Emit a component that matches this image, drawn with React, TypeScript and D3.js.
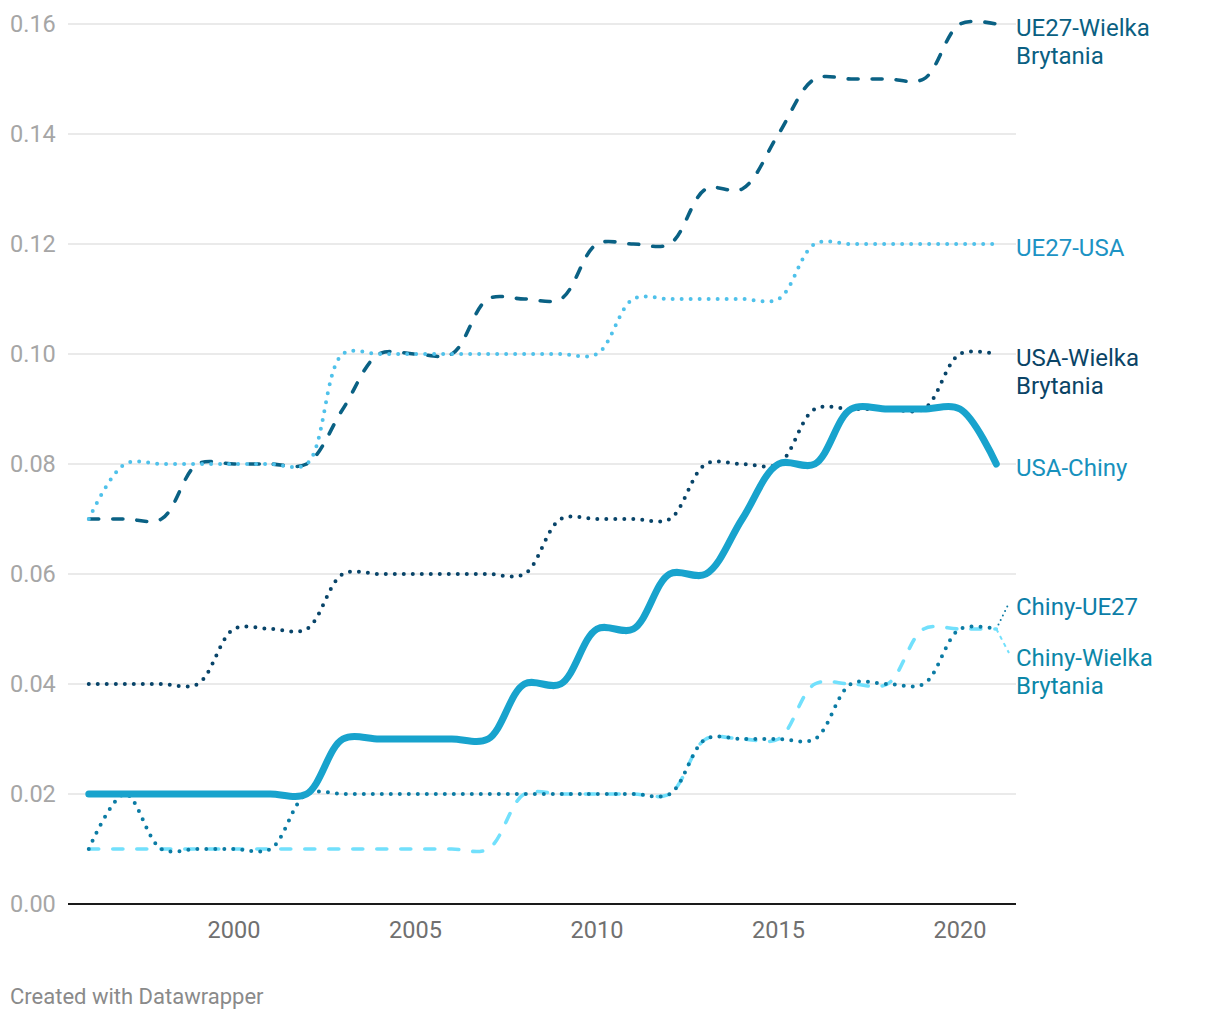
import React from "react";
import * as d3 from "d3";

const years = [1996,1997,1998,1999,2000,2001,2002,2003,2004,2005,2006,2007,2008,2009,2010,2011,2012,2013,2014,2015,2016,2017,2018,2019,2020,2021];

const ue27Wb = [0.07,0.07,0.07,0.08,0.08,0.08,0.08,0.09,0.10,0.10,0.10,0.11,0.11,0.11,0.12,0.12,0.12,0.13,0.13,0.14,0.15,0.15,0.15,0.15,0.16,0.16];
const ue27Usa = [0.07,0.08,0.08,0.08,0.08,0.08,0.08,0.10,0.10,0.10,0.10,0.10,0.10,0.10,0.10,0.11,0.11,0.11,0.11,0.11,0.12,0.12,0.12,0.12,0.12,0.12];
const usaWb = [0.04,0.04,0.04,0.04,0.05,0.05,0.05,0.06,0.06,0.06,0.06,0.06,0.06,0.07,0.07,0.07,0.07,0.08,0.08,0.08,0.09,0.09,0.09,0.09,0.10,0.10];
const usaChiny = [0.02,0.02,0.02,0.02,0.02,0.02,0.02,0.03,0.03,0.03,0.03,0.03,0.04,0.04,0.05,0.05,0.06,0.06,0.07,0.08,0.08,0.09,0.09,0.09,0.09,0.08];
const chinyUe27 = [0.01,0.02,0.01,0.01,0.01,0.01,0.02,0.02,0.02,0.02,0.02,0.02,0.02,0.02,0.02,0.02,0.02,0.03,0.03,0.03,0.03,0.04,0.04,0.04,0.05,0.05];
const chinyWb = [0.01,0.01,0.01,0.01,0.01,0.01,0.01,0.01,0.01,0.01,0.01,0.01,0.02,0.02,0.02,0.02,0.02,0.03,0.03,0.03,0.04,0.04,0.04,0.05,0.05,0.05];

const yTicks = [0, 0.02, 0.04, 0.06, 0.08, 0.1, 0.12, 0.14, 0.16];
const xTicks = [2000, 2005, 2010, 2015, 2020];

type S = { name: string[]; values: number[]; color: string; label: string; width: number; dash: string; labelY: number };

const series: S[] = [
  { name: ["UE27-Wielka", "Brytania"], values: ue27Wb, color: "#0a6184", label: "#0a5f82", width: 3.6, dash: "10 14", labelY: 0.16 },
  { name: ["UE27-USA"], values: ue27Usa, color: "#4fc1ea", label: "#1d93c4", width: 4, dash: "0 9", labelY: 0.12 },
  { name: ["USA-Wielka", "Brytania"], values: usaWb, color: "#084469", label: "#0a4466", width: 4, dash: "0 9", labelY: 0.10 },
  { name: ["Chiny-Wielka", "Brytania"], values: chinyWb, color: "#72e0fc", label: "#0c87a8", width: 3.6, dash: "10 14", labelY: -1 },
  { name: ["Chiny-UE27"], values: chinyUe27, color: "#0b7ba4", label: "#0d7ea8", width: 4, dash: "0 9", labelY: -1 },
  { name: ["USA-Chiny"], values: usaChiny, color: "#18a3cd", label: "#1791bd", width: 7, dash: "", labelY: 0.08 },
];

export default function App() {
  const W = 1220, H = 1020;
  const x = d3.scaleLinear().domain([1996, 2021]).range([88.8, 996.3]);
  const y = d3.scaleLinear().domain([0, 0.16]).range([904, 24]);
  const line = d3.line<number>().x((_, i) => x(years[i])).y((d) => y(d)).curve(d3.curveCatmullRom);
  const font = "Roboto, 'Noto Sans', sans-serif";
  const endY = y(0.05);

  return (
    <svg width={W} height={H} style={{ position: "absolute", left: 0, top: 0 }} fontFamily={font}>
      <rect width={W} height={H} fill="#fff" />
      {yTicks.map((t) => (
        <g key={t}>
          {t > 0 && <line x1={68} x2={1016} y1={y(t)} y2={y(t)} stroke="#e3e3e3" strokeWidth={1.5} />}
          <text x={10} y={y(t)} dy="0.35em" fontSize={23.5} fill="#a6a6a6">{t.toFixed(2)}</text>
        </g>
      ))}
      <line x1={68} x2={1016} y1={y(0)} y2={y(0)} stroke="#1a1a1a" strokeWidth={2} />
      {xTicks.map((t) => (
        <text key={t} x={x(t)} y={938} textAnchor="middle" fontSize={23.5} fill="#707070">{t}</text>
      ))}
      <line x1={x(2021)} y1={endY} x2={1009} y2={603} stroke="#0b7ba4" strokeWidth={2} strokeDasharray="0 5" strokeLinecap="round" />
      <line x1={x(2021)} y1={endY} x2={1009} y2={653} stroke="#72e0fc" strokeWidth={2} strokeDasharray="4 4" />
      {series.map((s) => (
        <path key={s.name.join(" ")} d={line(s.values) || ""} fill="none" stroke={s.color} strokeWidth={s.width}
          strokeDasharray={s.dash || undefined} strokeLinecap="round" strokeLinejoin="round" />
      ))}
      {series.map((s) => {
        const ly = s.labelY >= 0 ? y(s.labelY) + 4 : s.name[0] === "Chiny-UE27" ? 607 : 658;
        return (
          <text key={"l" + s.name.join(" ")} x={1016} y={ly} fontSize={24} fill={s.label}>
            {s.name.map((n, i) => (
              <tspan key={i} x={1016} dy={i === 0 ? "0.35em" : 28}>{n}</tspan>
            ))}
          </text>
        );
      })}
      <text x={10} y={1004} fontSize={22} fill="#8a8a8a">Created with Datawrapper</text>
    </svg>
  );
}
